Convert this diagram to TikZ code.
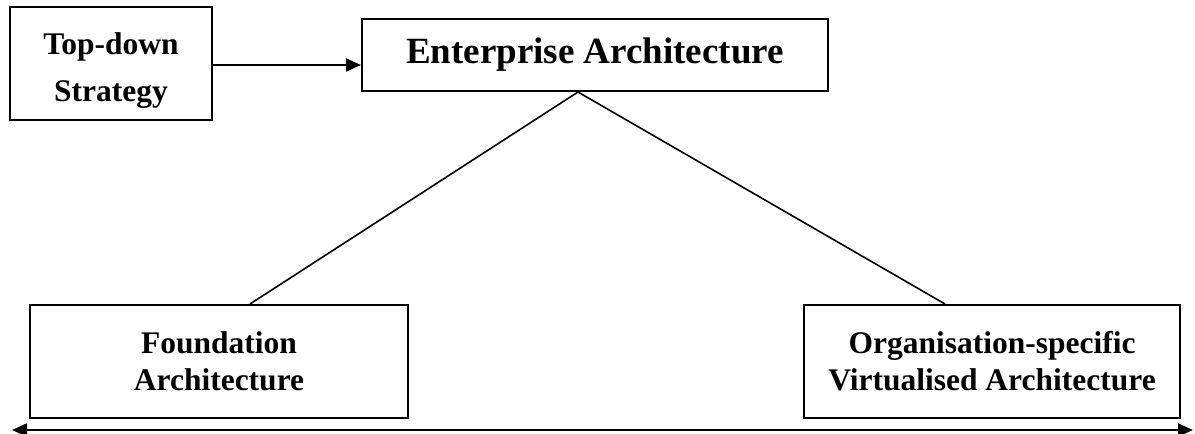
\documentclass[tikz,border=0pt]{standalone}
\usepackage{fontspec}
\setmainfont{Liberation Serif}
\usetikzlibrary{arrows.meta,calc}
\tikzset{
  box/.style={draw, line width=1pt, inner sep=0pt, align=center, font=\bfseries\fontsize{15.75pt}{18.5pt}\selectfont},
  conn/.style={line width=0.8pt},
  arr/.style={line width=1pt, -{Triangle[length=7.5pt,width=6.5pt]}},
}
\begin{document}
\begin{tikzpicture}[x=0.5pt,y=-0.5pt]
\useasboundingbox (0,0) rectangle (1195,434);
\node[box, minimum width=101pt, minimum height=56.5pt] (td) at (111,63.5) {};
\node[align=center, inner sep=0pt, font=\bfseries\fontsize{15.75pt}{23.5pt}\selectfont] (tdt) at ([yshift=-3.5pt]td.center) {Top-down\\Strategy};
\node[box, minimum width=233pt, minimum height=36pt, font=\bfseries\fontsize{18.5pt}{22pt}\selectfont] (ea) at (595,55) {Enterprise Architecture};
\node[box, minimum width=189pt, minimum height=56.5pt] (fa) at (219,361.5) {Foundation\\Architecture};
\node[box, minimum width=188pt, minimum height=56.5pt] (oa) at (992,361.5) {Organisation-specific\\Virtualised Architecture};
\coordinate (apex) at ([xshift=-8.5pt]ea.south);
\coordinate (fend) at ([xshift=15.5pt]fa.north);
\coordinate (oend) at ([xshift=-23.5pt]oa.north);
\coordinate (la) at (12,430);
\coordinate (ra) at (1193,430);
\draw[arr] ([yshift=-0.75pt]td.east) -- ([yshift=-0.75pt]td.east -| ea.west);
\draw[conn] (apex) -- (fend);
\draw[conn] (apex) -- (oend);
\draw[line width=1pt, {Triangle[length=7.5pt,width=6.5pt]}-{Triangle[length=7.5pt,width=6.5pt]}] (la) -- (ra);
\end{tikzpicture}
\end{document}
